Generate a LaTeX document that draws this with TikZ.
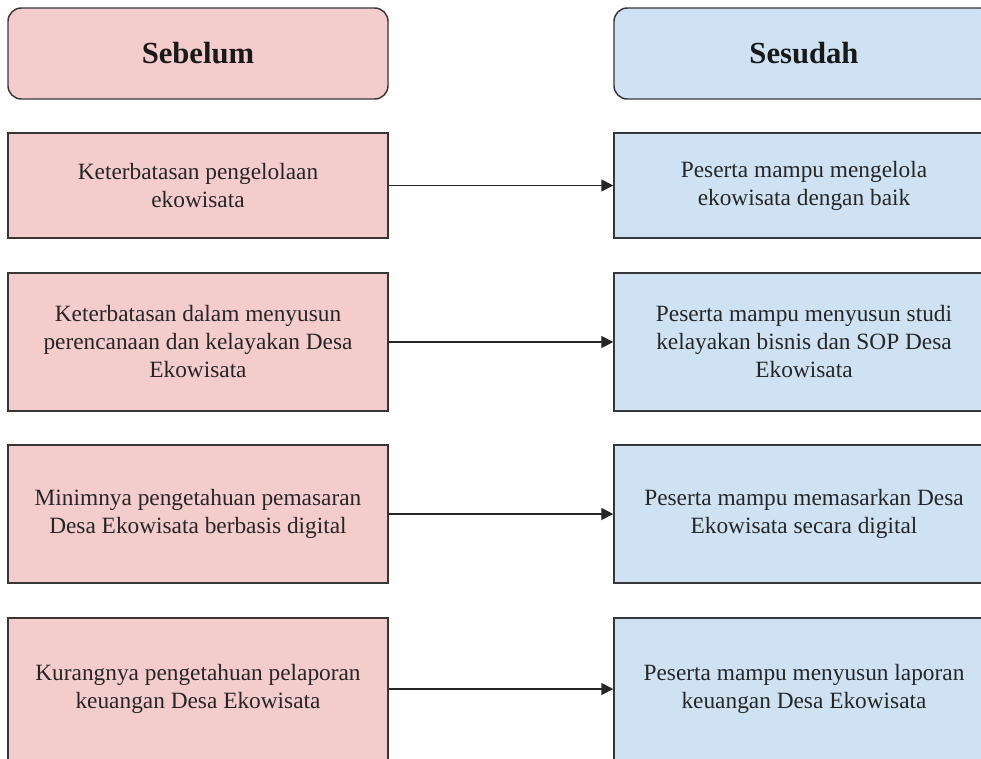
\documentclass[tikz,border=0pt]{standalone}
\usepackage{fontspec}
\setmainfont{Liberation Serif}
\usetikzlibrary{arrows.meta}

\definecolor{sebelumfill}{RGB}{244,204,204}
\definecolor{sesudahfill}{RGB}{207,226,243}
\definecolor{boxline}{RGB}{55,55,55}

\tikzset{every picture/.style={line width=0.75pt}}
\tikzset{
  headbox/.style={draw=boxline, line width=1.1pt, rounded corners=10pt, minimum width=285pt, minimum height=68.25pt, inner sep=0pt, font=\fontsize{23}{27}\selectfont\bfseries, text=black!90},
  itembox/.style={draw=boxline, line width=1.1pt, minimum width=285pt, inner sep=0pt, align=center, font=\fontsize{17.5}{21}\selectfont, text=black!85},
  flow/.style={draw=black!85, line width=1.3pt, -{Triangle[length=9pt,width=9pt]}}
}

\begin{document}
\begin{tikzpicture}[x=0.75pt,y=0.75pt,yscale=-1,xscale=1]
	\useasboundingbox (0,0) rectangle (981,758);
	\clip (0,0) rectangle (981,758);
	
	% Headers
	\node [headbox, fill=sebelumfill] (hSebelum) at (198,53.5) {Sebelum};
	\node [headbox, fill=sesudahfill] (hSesudah) at (804,53.5) {Sesudah};
	
	% Sebelum column
	\node [itembox, fill=sebelumfill, minimum height=78.75pt] (before1) at (198,185.5) {Keterbatasan pengelolaan\\ekowisata};
	\node [itembox, fill=sebelumfill, minimum height=103.5pt] (before2) at (198,342) {Keterbatasan dalam menyusun\\perencanaan dan kelayakan Desa\\Ekowisata};
	\node [itembox, fill=sebelumfill, minimum height=103.5pt] (before3) at (198,514) {Minimnya pengetahuan pemasaran\\Desa Ekowisata berbasis digital};
	\node [itembox, fill=sebelumfill, minimum height=106.5pt] (before4) at (198,689) {Kurangnya pengetahuan pelaporan\\keuangan Desa Ekowisata};
	
	% Sesudah column
	\node [itembox, fill=sesudahfill, minimum height=78.75pt] (after1) at (804,185.5) {Peserta mampu mengelola\\ekowisata dengan baik};
	\node [itembox, fill=sesudahfill, minimum height=103.5pt] (after2) at (804,342) {Peserta mampu menyusun studi\\kelayakan bisnis dan SOP Desa\\Ekowisata};
	\node [itembox, fill=sesudahfill, minimum height=103.5pt] (after3) at (804,514) {Peserta mampu memasarkan Desa\\Ekowisata secara digital};
	\node [itembox, fill=sesudahfill, minimum height=106.5pt] (after4) at (804,689) {Peserta mampu menyusun laporan\\keuangan Desa Ekowisata};
	
	% Arrows
	\foreach \i in {1,...,4}
	  \draw [flow] (before\i.east) -- (after\i.west);
	
\end{tikzpicture}
\end{document}
